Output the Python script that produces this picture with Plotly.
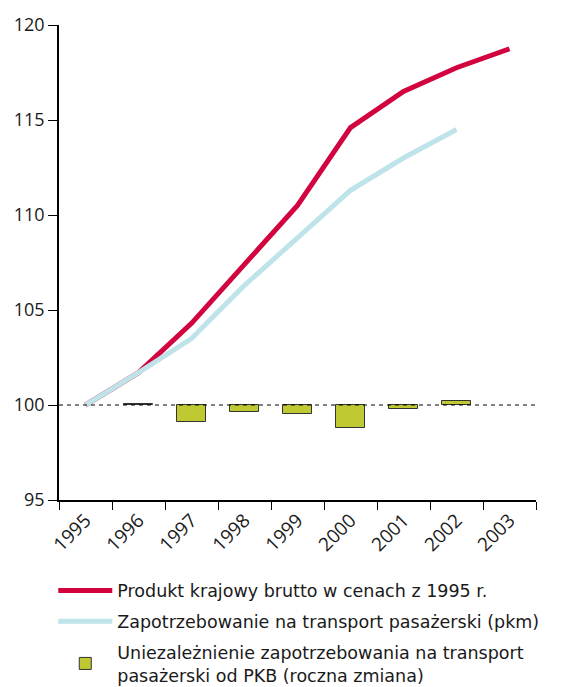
import plotly.graph_objects as go

years = ["1995", "1996", "1997", "1998", "1999", "2000", "2001", "2002", "2003"]
gdp = [100, 101.7, 104.3, 107.4, 110.5, 114.6, 116.5, 117.75, 118.75]
pkm = [100, 101.7, 103.5, 106.3, 108.8, 111.3, 113.0, 114.5, None]
decoupling_years = ["1996", "1997", "1998", "1999", "2000", "2001", "2002"]
decoupling = [0.03, -0.9, -0.38, -0.49, -1.23, -0.2, 0.23]
baseline = 100

y_ticks = [95, 100, 105, 110, 115, 120]

fig = go.Figure()

fig.add_trace(go.Bar(
    x=decoupling_years, y=decoupling, base=baseline,
    width=0.55,
    marker=dict(color="#BFCA33", line=dict(color="#333333", width=1)),
    name="Uniezależnienie zapotrzebowania na transport<br>pasażerski od PKB (roczna zmiana)",
    legendrank=3, legendgroup="c",
))
fig.add_trace(go.Scatter(
    x=years, y=gdp, mode="lines",
    line=dict(color="#D2043F", width=5),
    name="Produkt krajowy brutto w cenach z 1995 r.",
    legendrank=1, legendgroup="a",
))
fig.add_trace(go.Scatter(
    x=years, y=pkm, mode="lines",
    line=dict(color="#BEE3E8", width=5),
    name="Zapotrzebowanie na transport pasażerski (pkm)",
    legendrank=2, legendgroup="b",
))

# reference line at 100
fig.add_shape(type="line", xref="paper", yref="y", x0=0, x1=1, y0=baseline, y1=baseline,
              line=dict(color="black", width=1, dash="4px,4px"), layer="above")

fig.update_layout(
    width=570, height=687,
    margin=dict(l=59, r=34, t=25, b=187, autoexpand=False),
    plot_bgcolor="white", paper_bgcolor="white",
    font=dict(family="DejaVu Sans", color="#1a1a1a"),
    showlegend=True,
    legend=dict(
        orientation="v", x=-0.012, xanchor="left",
        y=-0.153, yanchor="top",
        font=dict(size=17.5, family="DejaVu Sans"),
        traceorder="grouped", tracegroupgap=5, itemwidth=54,
    ),
    bargap=0,
)
fig.update_xaxes(
    type="category", categoryorder="array", categoryarray=years,
    range=[-0.5, 8.5],
    showline=True, linecolor="black", linewidth=1.5,
    ticks="outside", tickson="boundaries", ticklen=8, tickcolor="black",
    tickangle=-45, tickfont=dict(size=19, family="Open Sans"),
    showgrid=False, zeroline=False, automargin=False,
)
fig.update_yaxes(
    range=[95, 120], tickvals=y_ticks,
    showline=True, linecolor="black", linewidth=1.5,
    ticks="outside", ticklen=9, tickcolor="black",
    tickfont=dict(size=18, family="Open Sans"),
    showgrid=False, zeroline=False, automargin=False,
)

fig.write_html("out.html")
